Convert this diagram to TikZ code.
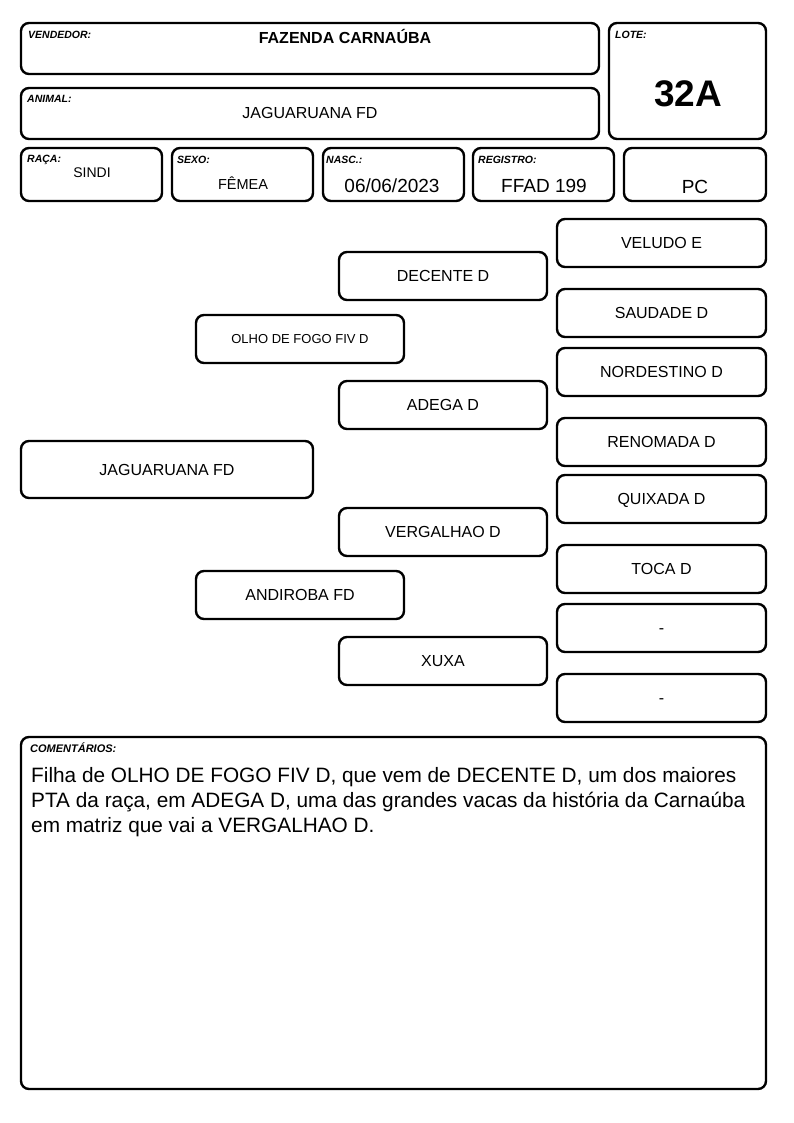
\documentclass[tikz,border=0pt]{standalone}
\usepackage{fontspec}
\setmainfont{Liberation Sans}

\begin{document}
\begin{tikzpicture}[x=1pt, y=-1pt,
		caixa/.style={draw, line width=2.4pt, rounded corners=8pt, inner sep=0pt},
		rotulo/.style={anchor=base west, inner sep=0pt, font=\fontsize{10.5}{12}\selectfont\bfseries\itshape},
		valor/.style={anchor=base, inner sep=0pt},
		ped/.style={caixa, minimum width=208pt, minimum height=48pt, text height=11.5pt, text depth=0pt, font=\fontsize{16}{19}\selectfont}]
			\useasboundingbox (0, 0) rectangle (794, 1123);
			
			% cabecalho
			\node[caixa, minimum width=578pt, minimum height=51pt] (vendedor) at (310, 48.5) {};
			\node[rotulo] (vendedorlabel) at (28, 39) {VENDEDOR:};
			\node[valor, font=\fontsize{16}{19}\selectfont\bfseries] (vendedortxt) at (345, 44) {FAZENDA CARNAÚBA};
			
			\node[caixa, minimum width=578pt, minimum height=51pt] (animal) at (310, 113.5) {};
			\node[rotulo] (animallabel) at (27, 103) {ANIMAL:};
			\node[valor, font=\fontsize{16}{19}\selectfont] (animaltxt) at (310, 119) {JAGUARUANA FD};
			
			\node[caixa, minimum width=157pt, minimum height=116pt] (lote) at (687.5, 81) {};
			\node[rotulo] (lotelabel) at (615, 39) {LOTE:};
			\node[valor, font=\fontsize{37}{40}\selectfont\bfseries] (lotetxt) at (688, 107) {32A};
			
			\node[caixa, minimum width=141pt, minimum height=53pt] (raca) at (91.5, 174.5) {};
			\node[rotulo] (racalabel) at (27, 163) {RAÇA:};
			\node[valor, font=\fontsize{14}{17}\selectfont] (racatxt) at (92, 178) {SINDI};
			
			\node[caixa, minimum width=141pt, minimum height=53pt] (sexo) at (242.5, 174.5) {};
			\node[rotulo] (sexolabel) at (177, 164) {SEXO:};
			\node[valor, font=\fontsize{14.5}{17}\selectfont] (sexotxt) at (243, 190) {FÊMEA};
			
			\node[caixa, minimum width=141pt, minimum height=53pt] (nasc) at (393.5, 174.5) {};
			\node[rotulo] (nasclabel) at (326, 164) {NASC.:};
			\node[valor, font=\fontsize{19}{22}\selectfont] (nasctxt) at (392, 193) {06/06/2023};
			
			\node[caixa, minimum width=141pt, minimum height=53pt] (registro) at (543.5, 174.5) {};
			\node[rotulo] (registrolabel) at (478, 164) {REGISTRO:};
			\node[valor, font=\fontsize{19}{22}\selectfont] (registrotxt) at (544, 193) {FFAD 199};
			
			\node[caixa, minimum width=142pt, minimum height=53pt] (pc) at (695, 174.5) {};
			\node[valor, font=\fontsize{19}{22}\selectfont] (pctxt) at (695, 194) {PC};
			
			% genealogia
			\node[caixa, minimum width=292pt, minimum height=57pt, font=\fontsize{16}{19}\selectfont] (jaguaruana) at (167, 469.5) {JAGUARUANA FD};
			
			\node[ped, text height=9.3pt, font=\fontsize{13}{16}\selectfont] (olho) at (300, 339) {OLHO DE FOGO FIV D};
			\node[ped] (andiroba) at (300, 595) {ANDIROBA FD};
			
			\node[ped] (decente) at (443, 276) {DECENTE D};
			\node[ped] (adega) at (443, 405) {ADEGA D};
			\node[ped] (vergalhao) at (443, 532) {VERGALHAO D};
			\node[ped] (xuxa) at (443, 661) {XUXA};
			
			\node[ped, minimum width=209pt] (veludo) at (661.5, 243) {VELUDO E};
			\node[ped, minimum width=209pt] (saudade) at (661.5, 313) {SAUDADE D};
			\node[ped, minimum width=209pt] (nordestino) at (661.5, 372) {NORDESTINO D};
			\node[ped, minimum width=209pt] (renomada) at (661.5, 442) {RENOMADA D};
			\node[ped, minimum width=209pt] (quixada) at (661.5, 499) {QUIXADA D};
			\node[ped, minimum width=209pt] (toca) at (661.5, 569) {TOCA D};
			\node[ped, minimum width=209pt] (vazioa) at (661.5, 628) {-};
			\node[ped, minimum width=209pt] (vaziob) at (661.5, 698) {-};
			
			% comentarios
			\node[caixa, minimum width=745pt, minimum height=352pt] (comentarios) at (393.5, 913) {};
			\node[rotulo, font=\fontsize{11}{13}\selectfont\bfseries\itshape] (comentarioslabel) at (30, 752) {COMENTÁRIOS:};
			\node[anchor=north west, inner sep=0pt, align=left, font=\fontsize{20.8}{25}\selectfont] (comentariostxt) at (31, 767) {Filha de OLHO DE FOGO FIV D, que vem de DECENTE D, um dos maiores\\
				PTA da raça, em ADEGA D, uma das grandes vacas da história da Carnaúba\\
				em matriz que vai a VERGALHAO D.};
			
		\end{tikzpicture}
\end{document}
